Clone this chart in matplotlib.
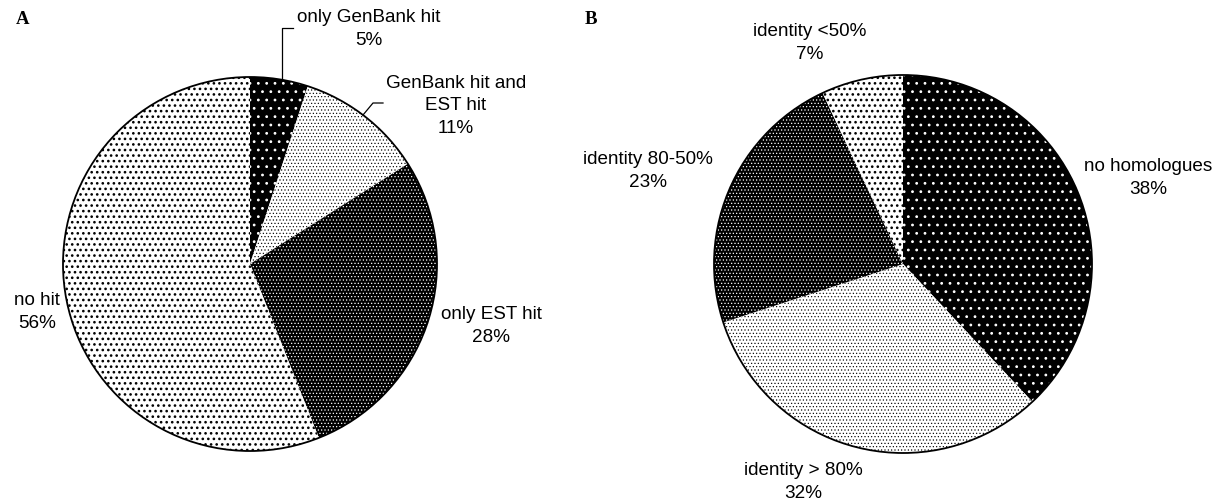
import matplotlib.pyplot as plt
from matplotlib.patches import Circle

plt.rcParams['font.family'] = ['Liberation Sans', 'DejaVu Sans']
plt.rcParams['hatch.linewidth'] = 0.6

W, H = 1231, 504

a_labels = ['only GenBank hit\n5%', 'GenBank hit and\nEST hit\n11%', 'only EST hit\n28%', 'no hit\n56%']
a_values = [5, 11, 28, 56]
b_labels = ['no homologues\n38%', 'identity > 80%\n32%', 'identity 80-50%\n23%', 'identity <50%\n7%']
b_values = [38, 32, 23, 7]

# (face, hatch colour, hatch, hatch linewidth) for each slice
sparse_dark = ('black', 'white', '..', 0.8)
fine_light = ('white', 'black', '.....', 0.45)
dense_dark = ('black', 'white', '.....', 0.5)
coarse_light = ('white', 'black', '...', 1.1)
styles = [sparse_dark, fine_light, dense_dark, coarse_light]


def Y(y):
    # pixel row -> data y
    return H - y


def draw_pie(ax, values, center, radius):
    wedges, _ = ax.pie(values, startangle=90, counterclock=False,
                       center=center, radius=radius)
    for w, (face, hc, hatch, hlw) in zip(wedges, styles):
        w.set_facecolor(face)
        w.set_edgecolor(hc)
        w.set_hatch(hatch)
        w.set_linewidth(0)
        if hasattr(w, 'set_hatch_linewidth'):
            w.set_hatch_linewidth(hlw)
    ax.add_patch(Circle(center, radius, fill=False, edgecolor='black', lw=1.3))


fig = plt.figure(figsize=(W / 100, H / 100), dpi=100)
ax = fig.add_axes([0, 0, 1, 1])

draw_pie(ax, a_values, (250, Y(264)), 187)
draw_pie(ax, b_values, (903, Y(264)), 189)

ax.set_xlim(0, W)
ax.set_ylim(0, H)
ax.set_aspect('equal')
ax.axis('off')

fs = 13.6
ls = 1.4
a_pos = [(369, 29), (456, 106), (491, 326), (37, 312)]
b_pos = [(1148, 178), (803, 482), (648, 171), (810, 43)]
for lab, (x, y) in zip(a_labels, a_pos):
    ax.text(x, Y(y), lab, ha='center', va='center', fontsize=fs, linespacing=ls)
for lab, (x, y) in zip(b_labels, b_pos):
    ax.text(x, Y(y), lab, ha='center', va='center', fontsize=fs, linespacing=ls)

# leader lines for the small slices
ax.plot([293, 282, 282], [Y(28), Y(28), Y(80)], color='black', lw=0.9)
ax.plot([383, 373, 363], [Y(103), Y(103), Y(115)], color='black', lw=0.9)

ax.text(16, Y(19), 'A', fontsize=13.5, fontweight='bold', family='Liberation Serif',
        ha='left', va='center')
ax.text(585, Y(19), 'B', fontsize=13.5, fontweight='bold', family='Liberation Serif',
        ha='left', va='center')

fig.savefig('out.png', dpi=100)
